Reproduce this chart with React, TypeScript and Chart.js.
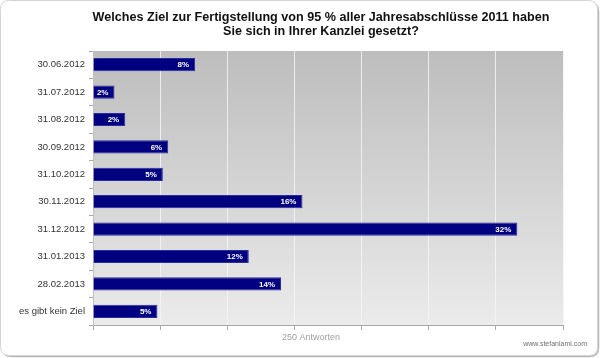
import React, { useEffect, useRef } from "react";
import { Chart, registerables } from "chart.js";

Chart.register(...registerables);

const categories = [
  "30.06.2012",
  "31.07.2012",
  "31.08.2012",
  "30.09.2012",
  "31.10.2012",
  "30.11.2012",
  "31.12.2012",
  "31.01.2013",
  "28.02.2013",
  "es gibt kein Ziel",
];
// share of 250 answers, in percent
const percentValues = [7.6, 1.6, 2.4, 5.6, 5.2, 15.6, 31.6, 11.6, 14.0, 4.8];
const valueLabels = ["8%", "2%", "2%", "6%", "5%", "16%", "32%", "12%", "14%", "5%"];
const titleLines = [
  "Welches Ziel zur Fertigstellung von 95 % aller Jahresabschlüsse 2011 haben",
  "Sie sich in Ihrer Kanzlei gesetzt?",
];
const axisTitle = "250 Antworten";
const watermark = "www.stefanlami.com";
const axisMax = 35;
const axisStep = 5;

const FONT = "'Liberation Sans', Arial, sans-serif";

const decorPlugin = {
  id: "decor",
  beforeDraw(chart: any) {
    const { ctx, chartArea } = chart;
    const W = chart.width;
    const H = chart.height;
    ctx.save();
    ctx.fillStyle = "#ffffff";
    ctx.fillRect(0, 0, W, H);
    const rr = (x: number, y: number, w: number, h: number, r: number) => {
      ctx.beginPath();
      ctx.moveTo(x + r, y);
      ctx.lineTo(x + w - r, y);
      ctx.quadraticCurveTo(x + w, y, x + w, y + r);
      ctx.lineTo(x + w, y + h - r);
      ctx.quadraticCurveTo(x + w, y + h, x + w - r, y + h);
      ctx.lineTo(x + r, y + h);
      ctx.quadraticCurveTo(x, y + h, x, y + h - r);
      ctx.lineTo(x, y + r);
      ctx.quadraticCurveTo(x, y, x + r, y);
      ctx.closePath();
    };
    rr(2.5, 2.5, W - 4, H - 4, 9);
    ctx.strokeStyle = "#b8b8b8";
    ctx.lineWidth = 1.5;
    ctx.stroke();
    rr(0.5, 0.5, W - 3, H - 3, 9);
    ctx.fillStyle = "#ffffff";
    ctx.fill();
    ctx.strokeStyle = "#d4d4d4";
    ctx.lineWidth = 1;
    ctx.stroke();
    const g = ctx.createLinearGradient(0, chartArea.top, 0, chartArea.bottom);
    g.addColorStop(0, "#bdbdbd");
    g.addColorStop(1, "#ebebeb");
    ctx.fillStyle = g;
    ctx.fillRect(chartArea.left, chartArea.top, chartArea.right - chartArea.left, chartArea.bottom - chartArea.top);
    ctx.restore();
  },
  afterDraw(chart: any) {
    const { ctx } = chart;
    ctx.save();
    ctx.fillStyle = "#111111";
    ctx.font = `bold 12.6px ${FONT}`;
    ctx.textAlign = "center";
    ctx.textBaseline = "alphabetic";
    ctx.fillText(titleLines[0], 321, 21);
    ctx.fillText(titleLines[1], 321, 35);
    ctx.fillStyle = "#a0a0a0";
    ctx.font = `9px ${FONT}`;
    ctx.fillText(axisTitle, 311, 340);
    ctx.fillStyle = "#707070";
    ctx.font = `7px ${FONT}`;
    ctx.textAlign = "right";
    ctx.fillText(watermark, 587, 346);
    const meta = chart.getDatasetMeta(0);
    ctx.fillStyle = "#ffffff";
    ctx.font = `bold 8px ${FONT}`;
    ctx.textAlign = "right";
    ctx.textBaseline = "middle";
    meta.data.forEach((bar: any, i: number) => {
      ctx.fillText(valueLabels[i], bar.x - 6, bar.y + 0.5);
    });
    ctx.restore();
  },
};

export default function App() {
  const ref = useRef<HTMLCanvasElement | null>(null);
  useEffect(() => {
    if (!ref.current) return;
    const chart = new Chart(ref.current, {
      type: "bar",
      data: {
        labels: categories,
        datasets: [
          {
            data: percentValues,
            backgroundColor: "#000080",
            borderColor: "#2b2ba0",
            borderWidth: 1,
            barPercentage: 0.48,
            categoryPercentage: 1,
          },
        ],
      },
      options: {
        indexAxis: "y",
        animation: false,
        responsive: false,
        maintainAspectRatio: false,
        layout: { padding: { top: 51, right: 37, left: 0, bottom: 0 } },
        plugins: {
          legend: { display: false },
          tooltip: { enabled: false },
          title: { display: false },
        },
        scales: {
          x: {
            min: 0,
            max: axisMax,
            ticks: { display: false, stepSize: axisStep },
            grid: {
              color: "rgba(245,245,245,0.85)",
              tickColor: "#a8a8a8",
              tickLength: 5,
              lineWidth: 1,
            },
            border: { color: "#a8a8a8" },
            afterFit: (s: any) => {
              s.height = 33;
            },
          },
          y: {
            ticks: {
              color: "#333333",
              font: { family: FONT, size: 9.5 },
              padding: 4,
            },
            grid: {
              drawOnChartArea: false,
              offset: true,
              tickColor: "#a8a8a8",
              tickLength: 4,
            },
            border: { color: "#c0c0c0" },
            afterFit: (s: any) => {
              s.width = 93;
            },
          },
        },
      },
      plugins: [decorPlugin],
    });
    return () => chart.destroy();
  }, []);
  return (
    <div style={{ position: "absolute", left: 0, top: 0, width: 600, height: 358 }}>
      <canvas ref={ref} width={600} height={358} style={{ display: "block" }} />
    </div>
  );
}
